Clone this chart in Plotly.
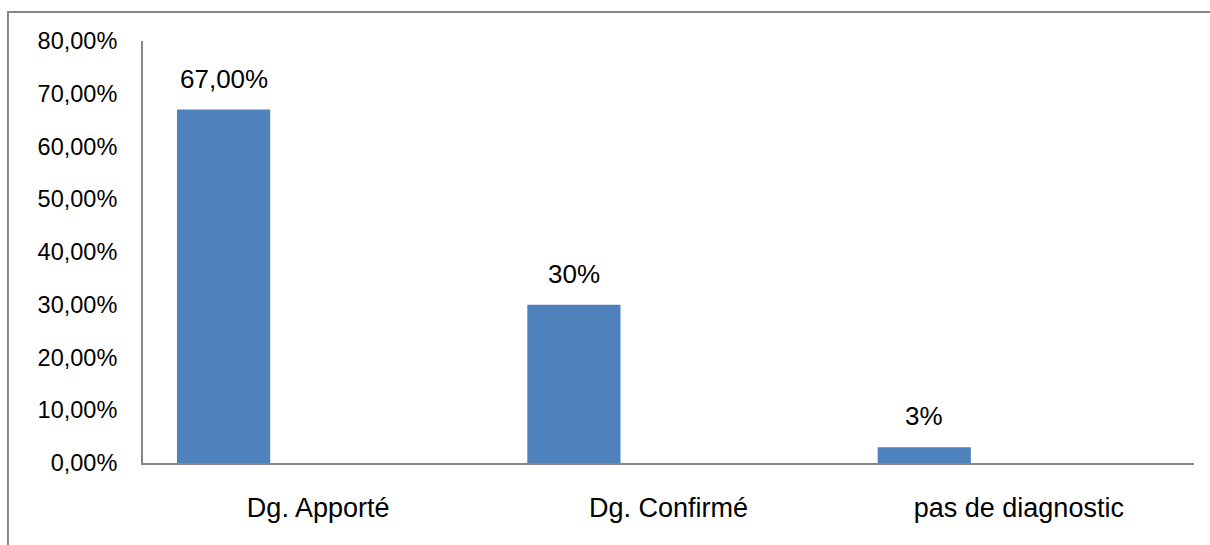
import plotly.graph_objects as go

categories = ["Dg. Apporté", "Dg. Confirmé", "pas de diagnostic"]
values = [0.67, 0.30, 0.03]
value_labels = ["67,00%", "30%", "3%"]
y_tick_values = [0, 0.1, 0.2, 0.3, 0.4, 0.5, 0.6, 0.7, 0.8]
y_tick_labels = ["0,00%", "10,00%", "20,00%", "30,00%", "40,00%",
                 "50,00%", "60,00%", "70,00%", "80,00%"]

FONT = "Liberation Sans"
BAR_OFFSET = -0.403
BAR_WIDTH = 0.266
xpos = list(range(len(categories)))

fig = go.Figure()
fig.add_trace(go.Bar(
    x=xpos, y=values,
    offset=BAR_OFFSET, width=BAR_WIDTH,
    marker=dict(color="#4F81BD", line=dict(width=0)),
    hoverinfo="skip",
))

for xi, v, lab in zip(xpos, values, value_labels):
    fig.add_annotation(
        x=xi + BAR_OFFSET + BAR_WIDTH / 2, y=v, text=lab,
        showarrow=False, yanchor="bottom", yshift=14,
        font=dict(family=FONT, size=26, color="#000000"),
    )

# outer chart border (left and top visible)
fig.add_shape(type="rect", xref="paper", yref="paper",
              x0=-0.1285, y0=-0.4, x1=1.1, y1=1.0687,
              line=dict(color="#868686", width=2), layer="below")

fig.update_layout(
    width=1210, height=545,
    margin=dict(l=143, r=16, t=41, b=82),
    paper_bgcolor="white", plot_bgcolor="white",
    showlegend=False,
    font=dict(family=FONT, size=22, color="#000000"),
    xaxis=dict(
        range=[-0.5, 2.5], tickvals=xpos, ticktext=categories,
        showgrid=False, zeroline=False,
        showline=True, linecolor="#868686", linewidth=2,
        ticks="", ticklabelstandoff=20,
        tickfont=dict(family=FONT, size=27, color="#000000"),
    ),
    yaxis=dict(
        range=[0, 0.8], tickvals=y_tick_values, ticktext=y_tick_labels,
        showgrid=False, zeroline=False,
        showline=True, linecolor="#868686", linewidth=2,
        ticks="", ticklabelstandoff=19,
        tickfont=dict(family=FONT, size=23.5, color="#000000"),
    ),
)

fig.write_html("out.html")
